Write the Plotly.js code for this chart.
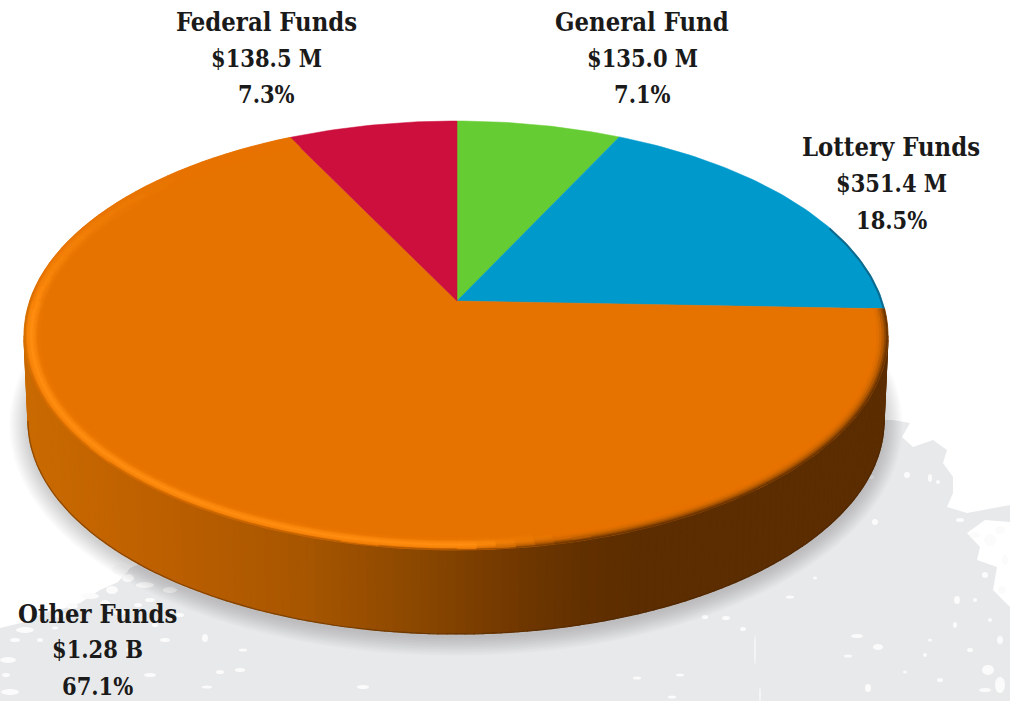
<!DOCTYPE html>
<html><head><meta charset="utf-8">
<script src="https://cdn.plot.ly/plotly-3.0.1.min.js"></script>
<style>html,body{margin:0;padding:0;background:#fff}#c{width:1010px;height:701px}</style></head>
<body><div id="c"></div>
<script>
// ---- chart data ----
const categories = ["General Fund", "Lottery Funds", "Other Funds", "Federal Funds"];
const shares = [7.1, 18.5, 67.1, 7.3];              // percent of the total
const amountLabels = ["$135.0 M", "$351.4 M", "$1.28 B", "$138.5 M"];
const percentLabels = ["7.1%", "18.5%", "67.1%", "7.3%"];
const sliceColors = ["#66cc33", "#0099cc", "#e67300", "#cc0f3c"];
// ---- label placement (x centre, first-line y) ----
const labelX = [642, 891, 97, 266];
const labelY = [22, 147, 614, 22];
const lineStep = [36.5, 37, 36.4, 36.5];
// ---- disc geometry ----
const apexX = 457, apexY = 301, persp = 0.1608, discA = 432, discB = 208.9;
const topE = {cx: 456, cy: 335.5, rx: 432, ry: 214.5};
const botE = {cx: 456, cy: 421, rx: 428, ry: 213};
// ---- side wall shading stops ----
const wallX = [30, 150, 300, 420, 500, 580, 640, 1000];
const wallCol = [[201,106,0],[190,96,0],[168,86,0],[138,71,0],[117,58,0],[98,48,0],[92,45,0],[90,45,0]];

const mix = (a, b, t) => a.map((v, i) => v + (b[i] - v) * t);
const rgb = c => `rgb(${c.map(Math.round).join(",")})`;
const wallAt = x => {
  if (x <= wallX[0]) return wallCol[0];
  for (let i = 1; i < wallX.length; i++) if (x <= wallX[i])
    return mix(wallCol[i-1], wallCol[i], (x - wallX[i-1]) / (wallX[i] - wallX[i-1]));
  return wallCol[wallCol.length - 1];
};
// a share angle (clockwise from 12 o'clock) seen in perspective, carried to the rim
function disc(theta, inset) {
  const u = Math.sin(theta), v = Math.cos(theta), w = 1 + persp * v;
  const dx = discA * u / w, dy = -discB * v / w;
  const rx = topE.rx - inset, ry = topE.ry - inset * 0.75;
  const ox = apexX - topE.cx, oy = apexY - topE.cy;
  const a = dx*dx/(rx*rx) + dy*dy/(ry*ry), b = 2*(ox*dx/(rx*rx) + oy*dy/(ry*ry)), c = ox*ox/(rx*rx) + oy*oy/(ry*ry) - 1;
  const t = (-b + Math.sqrt(b*b - 4*a*c)) / (2*a);
  return [apexX + t*dx, apexY + t*dy];
}
const ell = (e, p) => [e.cx + e.rx * Math.cos(p), e.cy + e.ry * Math.sin(p)];

const traces = [];
// side wall
const nWall = 150;
for (let i = 0; i < nWall; i++) {
  const p0 = Math.PI * i / nWall, p1 = Math.PI * (i + 1) / nWall;
  const a = ell(topE, p0), b = ell(topE, p1), c = ell(botE, p1), d = ell(botE, p0);
  const col = rgb(wallAt((a[0] + b[0]) / 2));
  traces.push({type:"scatter", mode:"lines", x:[a[0],b[0],c[0],d[0],a[0]], y:[a[1],b[1],c[1],d[1],a[1]],
    fill:"toself", fillcolor:col, line:{color:col, width:1.2}, hoverinfo:"skip"});
}
// dark lower edge of the wall
const edgeX = [], edgeY = [];
for (let i = 0; i <= 120; i++) { const q = ell(botE, Math.PI * i / 120); edgeX.push(q[0]); edgeY.push(q[1]); }
traces.push({type:"scatter", mode:"lines", x:edgeX, y:edgeY, line:{color:"rgba(70,35,0,0.45)", width:1.2}, hoverinfo:"skip"});

// slices, from the values
const total = shares.reduce((s, v) => s + v, 0);
let run = 0;
const bounds = shares.map(v => { const a0 = run / total * 2 * Math.PI; run += v; return [a0, run / total * 2 * Math.PI]; });
categories.forEach((name, i) => {
  const xs = [apexX], ys = [apexY];
  const n = Math.max(8, Math.round(shares[i] / total * 360));
  for (let k = 0; k <= n; k++) {
    const q = disc(bounds[i][0] + (bounds[i][1] - bounds[i][0]) * k / n, 0);
    xs.push(q[0]); ys.push(q[1]);
  }
  xs.push(apexX); ys.push(apexY);
  traces.push({type:"scatter", mode:"lines", name, x:xs, y:ys, fill:"toself", fillcolor:sliceColors[i],
    line:{color:sliceColors[i], width:0.5}, hoverinfo:"name"});
});

// bevel on the big slice rim
const face = [230,115,0], bright = [255,140,14];
const insets = [16, 13.5, 11, 8.5, 6, 3.5, 1.5, 0];
const bevel = {};
const th0 = bounds[2][0], th1 = bounds[2][1], nSeg = 110;
for (let s = 0; s < nSeg; s++) {
  const a = th0 + (th1 - th0) * s / nSeg, b = th0 + (th1 - th0) * (s + 1) / nSeg;
  const mid = disc((a + b) / 2, 0), xm = mid[0];
  const deg = (a + b) / 2 * 180 / Math.PI;
  const wall = wallAt(xm);
  const tDark = Math.min(1, Math.max(0, (xm - 470) / 90));
  const fade = Math.min(1, Math.max(0, (312 - deg) / 45));
  const front = deg < 270 ? 1 : Math.max(0, 1 - (deg - 270) / 10);
  for (let j = 0; j < insets.length - 1; j++) {
    const lightProf = [mix(face,bright,.1), mix(face,bright,.4), mix(face,bright,.8), bright, mix(bright,face,.25), mix(bright,face,.6), mix(face,wall,.6 * front)][j];
    const darkProf = [face, face, mix(face,wall,.04), mix(face,wall,.14), mix(face,wall,.34), mix(face,wall,.62), mix(face,wall,.9)][j];
    let col = mix(mix(face, lightProf, fade), darkProf, tDark);
    col = col.map(v => Math.round(v / 3) * 3);
    const key = rgb(col);
    const p = disc(a, insets[j]), q = disc(b, insets[j]), r = disc(b, insets[j+1]), t = disc(a, insets[j+1]);
    (bevel[key] = bevel[key] || {x:[], y:[]});
    bevel[key].x.push(p[0],q[0],r[0],t[0],p[0],null);
    bevel[key].y.push(p[1],q[1],r[1],t[1],p[1],null);
  }
}
Object.keys(bevel).forEach(col => traces.push({type:"scatter", mode:"lines", x:bevel[col].x, y:bevel[col].y,
  fill:"toself", fillcolor:col, line:{color:col, width:0.6}, hoverinfo:"skip"}));
// thin dark edge on the blue slice
const bx = [], by = [];
for (let i = 0; i <= 20; i++) { const q = disc(bounds[1][1] - 0.42 * (1 - i / 20), 0.8); bx.push(q[0]); by.push(q[1]); }
traces.push({type:"scatter", mode:"lines", x:bx, y:by, line:{color:"rgba(15,90,120,0.75)", width:2}, hoverinfo:"skip"});

// labels
const fam = "'DejaVu Serif Condensed','DejaVu Serif',serif";
const sizes = [25.4, 23.4, 23.4];
const annotations = [];
categories.forEach((name, i) => {
  [name, amountLabels[i], percentLabels[i]].forEach((t, j) => annotations.push({
    x: labelX[i], y: labelY[i] + j * lineStep[i], xref:"x", yref:"y", text:t, showarrow:false,
    xanchor:"center", yanchor:"middle", font:{family:fam, size:sizes[j], color:"#1a1a1a", weight:600}
  }));
});

// paper texture + soft shadow
const G = "#e8e9eb";
const shapes = [];
const blotPts = [[0,628],[25,622],[45,612],[62,609],[80,603],[100,590],[118,582],[130,568],[150,560],[300,500],[880,420],[893,420],[910,423],[902,437],[913,447],[933,440],[947,450],[943,463],[953,477],[953,493],[947,507],[967,513],[1010,505],[1010,522],[985,520],[967,533],[980,547],[977,560],[997,567],[993,590],[1010,607],[1010,701],[0,701]];
shapes.push({type:"path", path:"M" + blotPts.map(p => p[0] + "," + p[1]).join(" L") + " Z", fillcolor:G, line:{width:0}, layer:"below", xref:"x", yref:"y"});
const specks = [[875,522,3,3],[726,618,4,2],[705,617,3,2],[743,629,3,2],[790,597,4,1.5],[815,578,2,1.5],[857,636,6,2],[878,647,5,3],[848,656,4,1.5],[868,688,3,4],
 [637,678,4,1.5],[680,675,4,1.5],[672,697,4,1.5],[988,670,6,5],[957,600,3,4],[930,478,2,4],[938,482,2,2],[907,475,3,3],[870,477,4,2],[150,675,6,2],[220,672,4,2],[205,638,3,4],[243,650,4,1.5],
 [363,687,6,2],[207,687,5,1.5],[240,670,5,2],[8,660,8,3],[10,692,9,3],[40,640,3,2],[130,650,4,2],[120,612,7,3],[90,596,9,3],[150,600,5,2],[165,640,5,2],[170,590,7,3],[195,580,5,2],[145,585,9,3],
 [60,615,6,3],[25,630,9,3],[30,612,10,4],[72,606,6,3],[105,603,5,3],[112,590,6,4],[128,578,6,4],[138,605,4,2],[180,615,4,2],[155,625,3,2],[15,640,5,2],[55,628,3,1.5],[6,675,4,2],[120,570,8,5],
 [930,640,2,1.5],[955,625,2,3],[970,650,3,2],[1000,640,3,4],[985,690,6,2],[940,680,3,2],[905,672,2,1.5],[925,655,2,2],[1005,560,3,5],[990,540,6,6],[975,535,5,3],[1000,685,5,8],[760,695,0.7,8],[755,650,0.7,15],
 [960,520,4,2],[1000,530,5,4],[985,575,3,3],[1002,590,4,4],[975,600,2,2],[990,620,2,2]];
specks.forEach(s => shapes.push({type:"circle", x0:s[0]-s[2], x1:s[0]+s[2], y0:s[1]-s[3], y1:s[1]+s[3], fillcolor:"#fbfbfb", line:{width:0}, layer:"below", xref:"x", yref:"y"}));
for (let i = 11; i >= 0; i--) {
  shapes.push({type:"circle", x0:botE.cx-botE.rx-1-i*1.6, x1:botE.cx+botE.rx+1+i*1.6, y0:botE.cy+4-botE.ry-i*1.6, y1:botE.cy+4+botE.ry+i*1.6,
    fillcolor:"rgba(70,70,72,0.02)", line:{width:0}, layer:"below", xref:"x", yref:"y"});
}

Plotly.newPlot("c", traces, {
  width:1010, height:701, margin:{l:0,r:0,t:0,b:0}, showlegend:false,
  paper_bgcolor:"#ffffff", plot_bgcolor:"rgba(0,0,0,0)",
  xaxis:{range:[0,1010], visible:false, fixedrange:true},
  yaxis:{range:[701,0], visible:false, fixedrange:true},
  shapes, annotations
}, {displayModeBar:false, staticPlot:true});
</script></body></html>
